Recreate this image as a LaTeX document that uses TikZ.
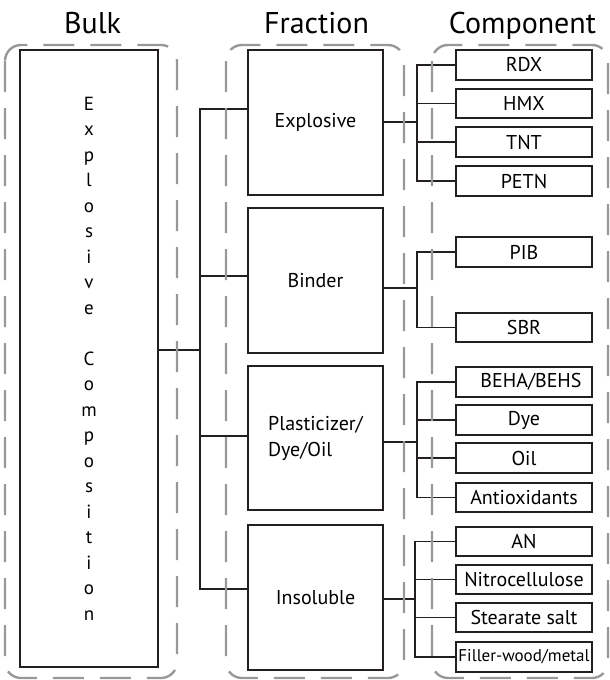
\documentclass[tikz,border=0pt]{standalone}
\usepackage{fontspec}
\setmainfont{PT Sans}
\definecolor{ink}{RGB}{35,31,32}
\definecolor{frame}{RGB}{152,152,152}

\begin{document}
\begin{tikzpicture}[x=1pt, y=-1pt,
    box/.style={rectangle, draw=ink, line width=1.7pt, minimum width=135pt, minimum height=145pt, inner sep=0pt, align=center, font=\fontsize{20}{26}\selectfont},
    part/.style={rectangle, draw=ink, line width=1.7pt, minimum width=136pt, minimum height=29.5pt, inner sep=0pt, font=\fontsize{20}{24}\selectfont},
    group/.style={draw=frame, line width=2.4pt, dash pattern=on 31pt off 16pt, rounded corners=16pt},
    title/.style={anchor=base, font=\fontsize{30}{34}\selectfont},
    link/.style={draw=ink, line width=1.7pt}
]
    \useasboundingbox (0,0) rectangle (610,680);

    \node[title] (bulkhead) at (92.5,34) {Bulk};
    \node[title] (fracthead) at (316.5,34) {Fraction};
    \node[title] (comphead) at (522.5,34) {Component};

    \node[box, minimum width=138pt, minimum height=617pt, font=\fontsize{19}{25.5}\selectfont] (bulk) at (89,358.5)
        {E\\x\\p\\l\\o\\s\\i\\v\\e\\[25.5pt]C\\o\\m\\p\\o\\s\\i\\t\\i\\o\\n};

    \node[box] (expl) at (315.5,122.5) {Explosive};
    \node[box] (binder) at (315.5,280.5) {Binder};
    \node[box, minimum height=144pt, align=left] (plast) at (315.5,438) {Plasticizer/\\Dye/Oil};
    \node[box] (insol) at (315.5,597.5) {Insoluble};

    \node[part] (rdx) at (524,65) {RDX};
    \node[part] (hmx) at (524,103.5) {HMX};
    \node[part] (tnt) at (524,142) {TNT};
    \node[part] (petn) at (524,181) {PETN};
    \node[part] (pib) at (524,252) {PIB};
    \node[part] (sbr) at (524,327.5) {SBR};
    \node[part] (beha) at (524,382) {\hspace{14pt}BEHA/BEHS};
    \node[part] (dye) at (524,420) {Dye};
    \node[part] (oil) at (524,458) {Oil};
    \node[part] (antiox) at (524,497.5) {Antioxidants};
    \node[part] (an) at (524,541.5) {AN};
    \node[part] (nitro) at (524,579.5) {Nitrocellulose};
    \node[part] (stearate) at (524,617.5) {Stearate salt};
    \node[part, font=\fontsize{17}{20}\selectfont] (filler) at (524,657) {Filler-wood/metal};

    \coordinate (bmid) at (200,350);
    \coordinate (fx1) at (200,109);
    \coordinate (fx2) at (200,276);
    \coordinate (fx3) at (200,436);
    \coordinate (fx4) at (200,589);
    \draw[link] (bulk.east |- bmid) -- (bmid);
    \draw[link] (expl.west |- fx1) -- (fx1) -- (fx4) -- (insol.west |- fx4);
    \draw[link] (binder.west |- fx2) -- (fx2);
    \draw[link] (plast.west |- fx3) -- (fx3);

    \coordinate (ex) at (417,122);
    \draw[link] (expl.east |- ex) -- (ex);
    \draw[link] (rdx.west) -- (rdx.west -| ex) -- (petn.west -| ex) -- (petn.west);
    \draw[link] (hmx.west) -- (hmx.west -| ex);
    \draw[link] (tnt.west) -- (tnt.west -| ex);

    \coordinate (bx) at (417,288);
    \draw[link] (binder.east |- bx) -- (bx);
    \draw[link] (pib.west) -- (pib.west -| bx) -- (sbr.west -| bx) -- (sbr.west);

    \coordinate (px) at (417,442);
    \draw[link] (plast.east |- px) -- (px);
    \draw[link] (beha.west) -- (beha.west -| px) -- (antiox.west -| px) -- (antiox.west);
    \draw[link] (dye.west) -- (dye.west -| px);
    \draw[link] (oil.west) -- (oil.west -| px);

    \coordinate (ix) at (415,599);
    \draw[link] (insol.east |- ix) -- (ix);
    \draw[link] (an.west) -- (an.west -| ix) -- (filler.west -| ix) -- (filler.west);
    \draw[link] (nitro.west) -- (nitro.west -| ix);
    \draw[link] (stearate.west) -- (stearate.west -| ix);

    \draw[group] (5,45) rectangle (177,678);
    \draw[group] (226,45) rectangle (404,678);
    \draw[group] (432,45) rectangle (608,678);
\end{tikzpicture}
\end{document}
